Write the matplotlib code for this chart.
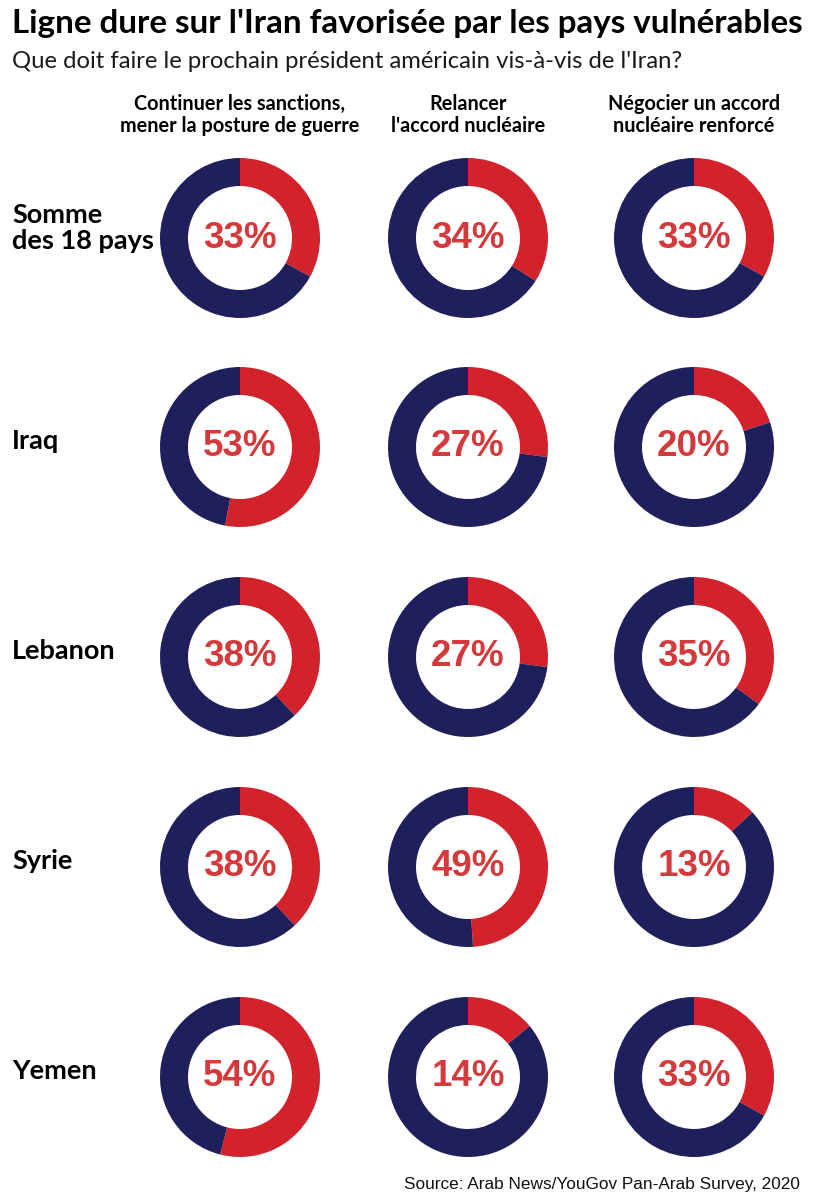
import matplotlib.pyplot as plt
from matplotlib import font_manager

W, H = 821, 1200

title = "Ligne dure sur l'Iran favorisée par les pays vulnérables"
subtitle = "Que doit faire le prochain président américain vis-à-vis de l'Iran?"
columns = ["Continuer les sanctions,\nmener la posture de guerre",
           "Relancer\nl'accord nucléaire",
           "Négocier un accord\nnucléaire renforcé"]
rows = ["Somme\ndes 18 pays", "Iraq", "Lebanon", "Syrie", "Yemen"]
values = [
    [33, 34, 33],
    [53, 27, 20],
    [38, 27, 35],
    [38, 49, 13],
    [54, 14, 33],
]
source = "Source: Arab News/YouGov Pan-Arab Survey, 2020"

red = "#d2222b"
navy = "#1f1f5c"
txt_red = "#d43a3c"

col_x = [240, 468, 694]
row_y = [238, 447, 657, 867, 1077]
R = 80

names = {f.name for f in font_manager.fontManager.ttflist}
head_font = "Lato" if "Lato" in names else "DejaVu Sans"

fig = plt.figure(figsize=(W / 100, H / 100), dpi=100)
fig.patch.set_facecolor("white")


def fx(x):
    return x / W


def fy(y):
    return 1 - y / H


fig.text(fx(12), fy(23), title, fontsize=23.9, fontweight="bold", family=head_font,
         ha="left", va="center", color="black")
fig.text(fx(12), fy(61), subtitle, fontsize=17.2, fontweight="normal", family=head_font,
         ha="left", va="center", color="#1a1a1a")

for x, c in zip(col_x, columns):
    fig.text(fx(x), fy(115), c, fontsize=14.3, fontweight="bold", family=head_font,
             ha="center", va="center", linespacing=1.1, color="black")

for y, r in zip(row_y, rows):
    fig.text(fx(12), fy(y - 10 if "\n" in r else y - 6), r, fontsize=19.5, fontweight="bold",
             family=head_font, ha="left", va="center", linespacing=1.1, color="black")

for i, y in enumerate(row_y):
    for j, x in enumerate(col_x):
        v = values[i][j]
        ax = fig.add_axes([fx(x - R), fy(y + R), 2 * R / W, 2 * R / H])
        ax.pie([v, 100 - v], colors=[red, navy], startangle=90, counterclock=False,
               radius=1, wedgeprops=dict(width=0.35, linewidth=0))
        ax.set_xlim(-1, 1)
        ax.set_ylim(-1, 1)
        ax.set_aspect("equal")
        ax.axis("off")
        ax.text(0, 0, f"{v}%", fontsize=26.5, fontweight="bold", family="Liberation Sans",
                color=txt_red, ha="center", va="center")

fig.text(fx(800), fy(1185), source, fontsize=12.4, family="Liberation Sans",
         ha="right", va="center", color="#111111")

fig.savefig("out.png", dpi=100)
